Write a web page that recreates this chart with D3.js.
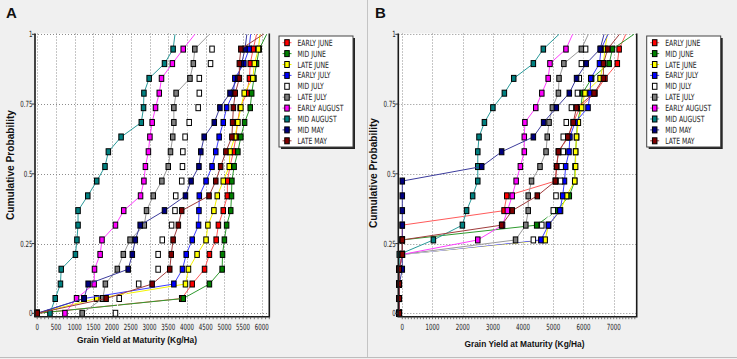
<!DOCTYPE html>
<html>
<head>
<meta charset="utf-8">
<script src="https://cdn.jsdelivr.net/npm/d3@7"></script>
<style>
body { margin: 0; background: #f0f0f0; }
svg { display: block; }
.narrow { font-family: 'Liberation Sans Narrow', 'Arial Narrow', 'DejaVu Sans Condensed', sans-serif; }
.bold { font-family: 'Liberation Sans', Arial, sans-serif; font-weight: bold; }
</style>
</head>
<body>
<svg id="chart"></svg>
<script>
// planting dates (legend order)
var plantings = ["EARLY JUNE", "MID JUNE", "LATE JUNE", "EARLY JULY", "MID JULY",
                 "LATE JULY", "EARLY AUGUST", "MID AUGUST", "MID MAY", "LATE MAY"];
var fills = ["#ff0000", "#008000", "#ffff00", "#0000ff", "#ffffff",
             "#808080", "#ff00ff", "#008080", "#000080", "#800000"];
var strokes = ["#ff5a5a", "#2e9a2e", "#f4f400", "#3c3cff", "#ffffff",
               "#9a9a9a", "#ff40ff", "#2a9a9a", "#3c3c9c", "#a03c3c"];

// cumulative probability levels
var probs = [0, 0.053, 0.105, 0.158, 0.211, 0.263, 0.316, 0.368, 0.421, 0.474,
             0.526, 0.579, 0.632, 0.684, 0.737, 0.789, 0.842, 0.895, 0.947, 1];

// panel A: grain yield (kg/ha)
var aEarlyJune = [0, 3860, 4140, 4470, 4600, 4780, 4840, 4970, 5080, 5080, 5150, 5240, 5310, 5350, 5420, 5600, 5670, 5690, 5770, 5860];
var aMidJune   = [0, 3900, 4600, 4940, 4950, 5000, 5060, 5170, 5190, 5200, 5260, 5360, 5440, 5540, 5690, 5730, 5790, 5860, 5930, 6130];
var aLateJune  = [0, 1590, 3960, 4040, 4270, 4510, 4560, 4720, 4810, 4970, 5130, 5150, 5280, 5360, 5440, 5530, 5760, 5800, 5910, 5950];
var aEarlyJuly = [0, 1250, 3650, 3880, 3980, 4140, 4310, 4320, 4330, 4510, 4670, 4770, 4860, 4970, 5060, 5240, 5280, 5520, 5660, 5700];
var aMidJuly   = [2090, 2190, 2710, 3230, 3230, 3340, 3590, 3680, 3700, 3860, 3880, 3890, 3950, 4060, 4300, 4330, 4330, 4630, 4670, 5060];
var aLateJuly  = [1200, 1750, 1820, 2140, 2300, 2480, 2860, 2920, 3100, 3330, 3500, 3560, 3620, 3650, 3650, 3710, 4080, 4170, 4210, 4600];
var aEarlyAug  = [740, 1050, 1520, 1530, 1680, 1730, 2090, 2310, 2760, 2850, 2890, 2970, 3010, 3070, 3160, 3260, 3320, 3610, 3900, 4210];
var aMidAug    = [340, 480, 620, 640, 1020, 1060, 1090, 1090, 1350, 1590, 1810, 1900, 2240, 2780, 2840, 2850, 2990, 3400, 3630, 3680];
var aMidMay    = [0, 1250, 1360, 2430, 2540, 2620, 2750, 3400, 3960, 4110, 4320, 4370, 4460, 4730, 4880, 5150, 5350, 5460, 5550, 5600];
var aLateMay   = [0, 1840, 3070, 3540, 3580, 3630, 3770, 3860, 4590, 4770, 4900, 5040, 5200, 5220, 5240, 5290, 5400, 5400, 5440, 6040];

// panel B: grain yield (kg/ha)
var bEarlyJune = [-100, -100, -100, -100, 0, 0, 0, 3370, 3460, 5070, 5110, 5170, 5500, 5660, 5880, 6380, 6710, 7120, 7180, 7400];
var bMidJune   = [-100, -100, -100, -100, 0, 0, 4450, 5110, 5530, 5710, 5720, 5740, 5770, 5800, 5910, 5970, 6270, 6850, 6960, 7670];
var bLateJune  = [-100, -100, -100, -100, 0, 4730, 4840, 5240, 5440, 5710, 5740, 5740, 5770, 5830, 5940, 6050, 6550, 6660, 6710, 6790];
var bEarlyJuly = [-100, -100, -100, -100, 0, 4590, 4840, 5220, 5310, 5370, 5410, 5520, 5550, 5720, 6150, 6220, 6240, 6530, 6580, 6810];
var bMidJuly   = [-100, -100, -100, -100, 0, 4340, 4620, 5000, 5090, 5240, 5260, 5330, 5330, 5430, 5600, 5800, 5860, 5930, 6070, 6550];
var bLateJuly  = [-100, -100, -100, -100, 0, 3750, 4090, 4170, 4170, 4280, 4560, 4760, 4800, 4860, 4970, 5170, 5190, 5350, 5930, 6160];
var bEarlyAug  = [-100, -100, -100, -100, 0, 2500, 3320, 3480, 3640, 3770, 3910, 4040, 4040, 4060, 4420, 4620, 4830, 4890, 5420, 5640];
var bMidAug    = [-100, -100, -100, -100, -100, 1030, 1990, 2130, 2330, 2500, 2500, 2500, 2540, 2720, 3000, 3380, 3690, 4340, 4670, 5190];
var bMidMay    = [-100, -100, -100, 0, 0, 0, 0, 0, 0, 0, 2630, 3290, 4340, 4680, 5100, 5530, 5770, 6090, 6550, 6680];
var bLateMay   = [-100, -100, -100, -100, 0, 0, 3290, 3640, 4470, 5070, 5110, 5170, 5480, 5660, 5770, 6350, 6660, 6660, 6800, 7190];

var yTicks = [0, 0.25, 0.5, 0.75, 1];
var yTickLabels = ["0", "0.25", "0.5", "0.75", "1"];
var xTicksA = [0, 500, 1000, 1500, 2000, 2500, 3000, 3500, 4000, 4500, 5000, 5500, 6000];
var xTicksB = [0, 1000, 2000, 3000, 4000, 5000, 6000, 7000];

var W = 737, H = 359;
var svg = d3.select("#chart").attr("width", W).attr("height", H);

// frame of the figure
svg.append("rect").attr("width", W).attr("height", H).attr("fill", "#f0f0f0");
svg.append("line").attr("x1", 367.5).attr("x2", 367.5).attr("y1", 0).attr("y2", 357)
    .attr("stroke", "#c4c4c4");
svg.append("line").attr("x1", 0).attr("x2", W).attr("y1", 357.5).attr("y2", 357.5)
    .attr("stroke", "#bdbdbd");

var panels = [
  { letter: "A", lx: 6, series: [aEarlyJune, aMidJune, aLateJune, aEarlyJuly, aMidJuly, aLateJuly, aEarlyAug, aMidAug, aMidMay, aLateMay],
    xDomain: [-60, 6200], xRange: [35, 269.3], xTicks: xTicksA, xMax: 6200,
    legendX: 279, titleX: 137, titleY: 343, yTitleX: 14, yTitleY: 165 },
  { letter: "B", lx: 375, series: [bEarlyJune, bMidJune, bLateJune, bEarlyJuly, bMidJuly, bLateJuly, bEarlyAug, bMidAug, bMidMay, bLateMay],
    xDomain: [-132, 7762], xRange: [398.3, 636.7], xTicks: xTicksB, xMax: 7700,
    legendX: 646.7, titleX: 524.5, titleY: 347, yTitleX: 377, yTitleY: 173 }
];

var plotTop = 33.5, plotBottom = 316.7;

panels.forEach(function(p) {
  var g = svg.append("g");
  var x = d3.scaleLinear().domain(p.xDomain).range(p.xRange);
  var y = d3.scaleLinear().domain([0, 1]).range([313.3, 34.3]);

  // plot background
  g.append("rect")
    .attr("x", p.xRange[0]).attr("y", plotTop)
    .attr("width", p.xRange[1] - p.xRange[0]).attr("height", plotBottom - plotTop)
    .attr("fill", "#fff");

  // dotted grid
  g.selectAll(".vgrid").data(p.xTicks).enter().append("line")
    .attr("x1", function(d) { return Math.round(x(d)) + 0.5; })
    .attr("x2", function(d) { return Math.round(x(d)) + 0.5; })
    .attr("y1", plotTop).attr("y2", plotBottom)
    .attr("stroke", "#8c8c8c").attr("stroke-dasharray", "1,2");
  g.selectAll(".hgrid").data(yTicks).enter().append("line")
    .attr("x1", p.xRange[0]).attr("x2", p.xRange[1])
    .attr("y1", function(d) { return Math.round(y(d)) + 0.5; })
    .attr("y2", function(d) { return Math.round(y(d)) + 0.5; })
    .attr("stroke", "#8c8c8c").attr("stroke-dasharray", "1,2");

  // series lines + markers
  var line = d3.line()
    .x(function(d) { return x(d[0]); })
    .y(function(d) { return y(d[1]); });

  p.series.forEach(function(vals, si) {
    var pts = vals.map(function(v, i) { return [v, probs[i]]; });
    g.append("path").datum(pts)
      .attr("d", line)
      .attr("fill", "none")
      .attr("stroke", strokes[si])
      .attr("stroke-width", 1);
    g.selectAll(".m" + si).data(pts.filter(function(d) { return d[1] < 1; }))
      .enter().append("rect")
      .attr("x", function(d) { return x(d[0]) - 2.25; })
      .attr("y", function(d) { return y(d[1]) - 3; })
      .attr("width", 4.5).attr("height", 6)
      .attr("fill", fills[si])
      .attr("stroke", "#000").attr("stroke-width", 1);
  });

  // plot border: left, bottom, right
  g.append("path")
    .attr("d", "M" + p.xRange[0] + "," + plotTop + "V" + plotBottom + "H" + p.xRange[1] + "V" + plotTop)
    .attr("fill", "none").attr("stroke", "#1a1a1a").attr("stroke-width", 1.6);

  // x axis ticks
  var minor = d3.range(0, p.xMax + 1, 100);
  g.selectAll(".mtick").data(minor).enter().append("line")
    .attr("x1", function(d) { return x(d); }).attr("x2", function(d) { return x(d); })
    .attr("y1", plotBottom).attr("y2", plotBottom + 2.5)
    .attr("stroke", "#555").attr("stroke-width", 0.8);
  g.selectAll(".xlab").data(p.xTicks).enter().append("text")
    .attr("class", "narrow")
    .attr("transform", function(d) { return "translate(" + x(d) + ",330) scale(0.72,1)"; })
    .attr("text-anchor", "middle")
    .attr("font-size", 8.5).attr("fill", "#222")
    .text(function(d) { return d; });

  // y axis ticks
  g.selectAll(".ytick").data(yTicks).enter().append("line")
    .attr("x1", p.xRange[0] - 3).attr("x2", p.xRange[0])
    .attr("y1", function(d) { return y(d); }).attr("y2", function(d) { return y(d); })
    .attr("stroke", "#333");
  g.selectAll(".ylab").data(yTicks).enter().append("text")
    .attr("class", "narrow")
    .attr("transform", function(d) { return "translate(" + (p.xRange[0] - 2.5) + "," + (y(d) + 3) + ") scale(0.72,1)"; })
    .attr("text-anchor", "end")
    .attr("font-size", 8.5).attr("fill", "#222")
    .text(function(d, i) { return yTickLabels[i]; });

  // titles
  g.append("text").attr("class", "bold")
    .attr("x", p.titleX).attr("y", p.titleY)
    .attr("text-anchor", "middle").attr("font-size", 9)
    .attr("textLength", 120).attr("lengthAdjust", "spacingAndGlyphs")
    .attr("fill", "#111")
    .text("Grain Yield at Maturity (Kg/Ha)");
  g.append("text").attr("class", "bold")
    .attr("transform", "translate(" + p.yTitleX + "," + p.yTitleY + ") rotate(-90)")
    .attr("text-anchor", "middle").attr("font-size", 10)
    .attr("textLength", 110).attr("lengthAdjust", "spacingAndGlyphs")
    .attr("fill", "#111")
    .text("Cumulative Probability");
  g.append("text").attr("class", "bold")
    .attr("x", p.lx).attr("y", 18)
    .attr("font-size", 15).attr("fill", "#111")
    .text(p.letter);

  // legend
  var lg = g.append("g").attr("transform", "translate(" + p.legendX + ",36)");
  lg.append("rect").attr("x", 2).attr("y", 2).attr("width", 74).attr("height", 111).attr("fill", "#222");
  lg.append("rect").attr("x", 0).attr("y", 0).attr("width", 74).attr("height", 111)
    .attr("fill", "#fff").attr("stroke", "#444").attr("stroke-width", 1);
  var rows = lg.selectAll(".row").data(plantings).enter().append("g")
    .attr("transform", function(d, i) { return "translate(0," + (6.7 + i * 10.9) + ")"; });
  rows.append("line").attr("x1", 3.5).attr("x2", 12.5)
    .attr("stroke", function(d, i) { return strokes[i]; });
  rows.append("rect").attr("x", 5.75).attr("y", -3).attr("width", 4.5).attr("height", 6)
    .attr("fill", function(d, i) { return fills[i]; })
    .attr("stroke", "#000");
  rows.append("text").attr("class", "narrow")
    .attr("transform", "translate(18.5,3) scale(0.8,1)")
    .attr("font-size", 8.5).attr("fill", "#222")
    .text(function(d) { return d; });
});
</script>
</body>
</html>
